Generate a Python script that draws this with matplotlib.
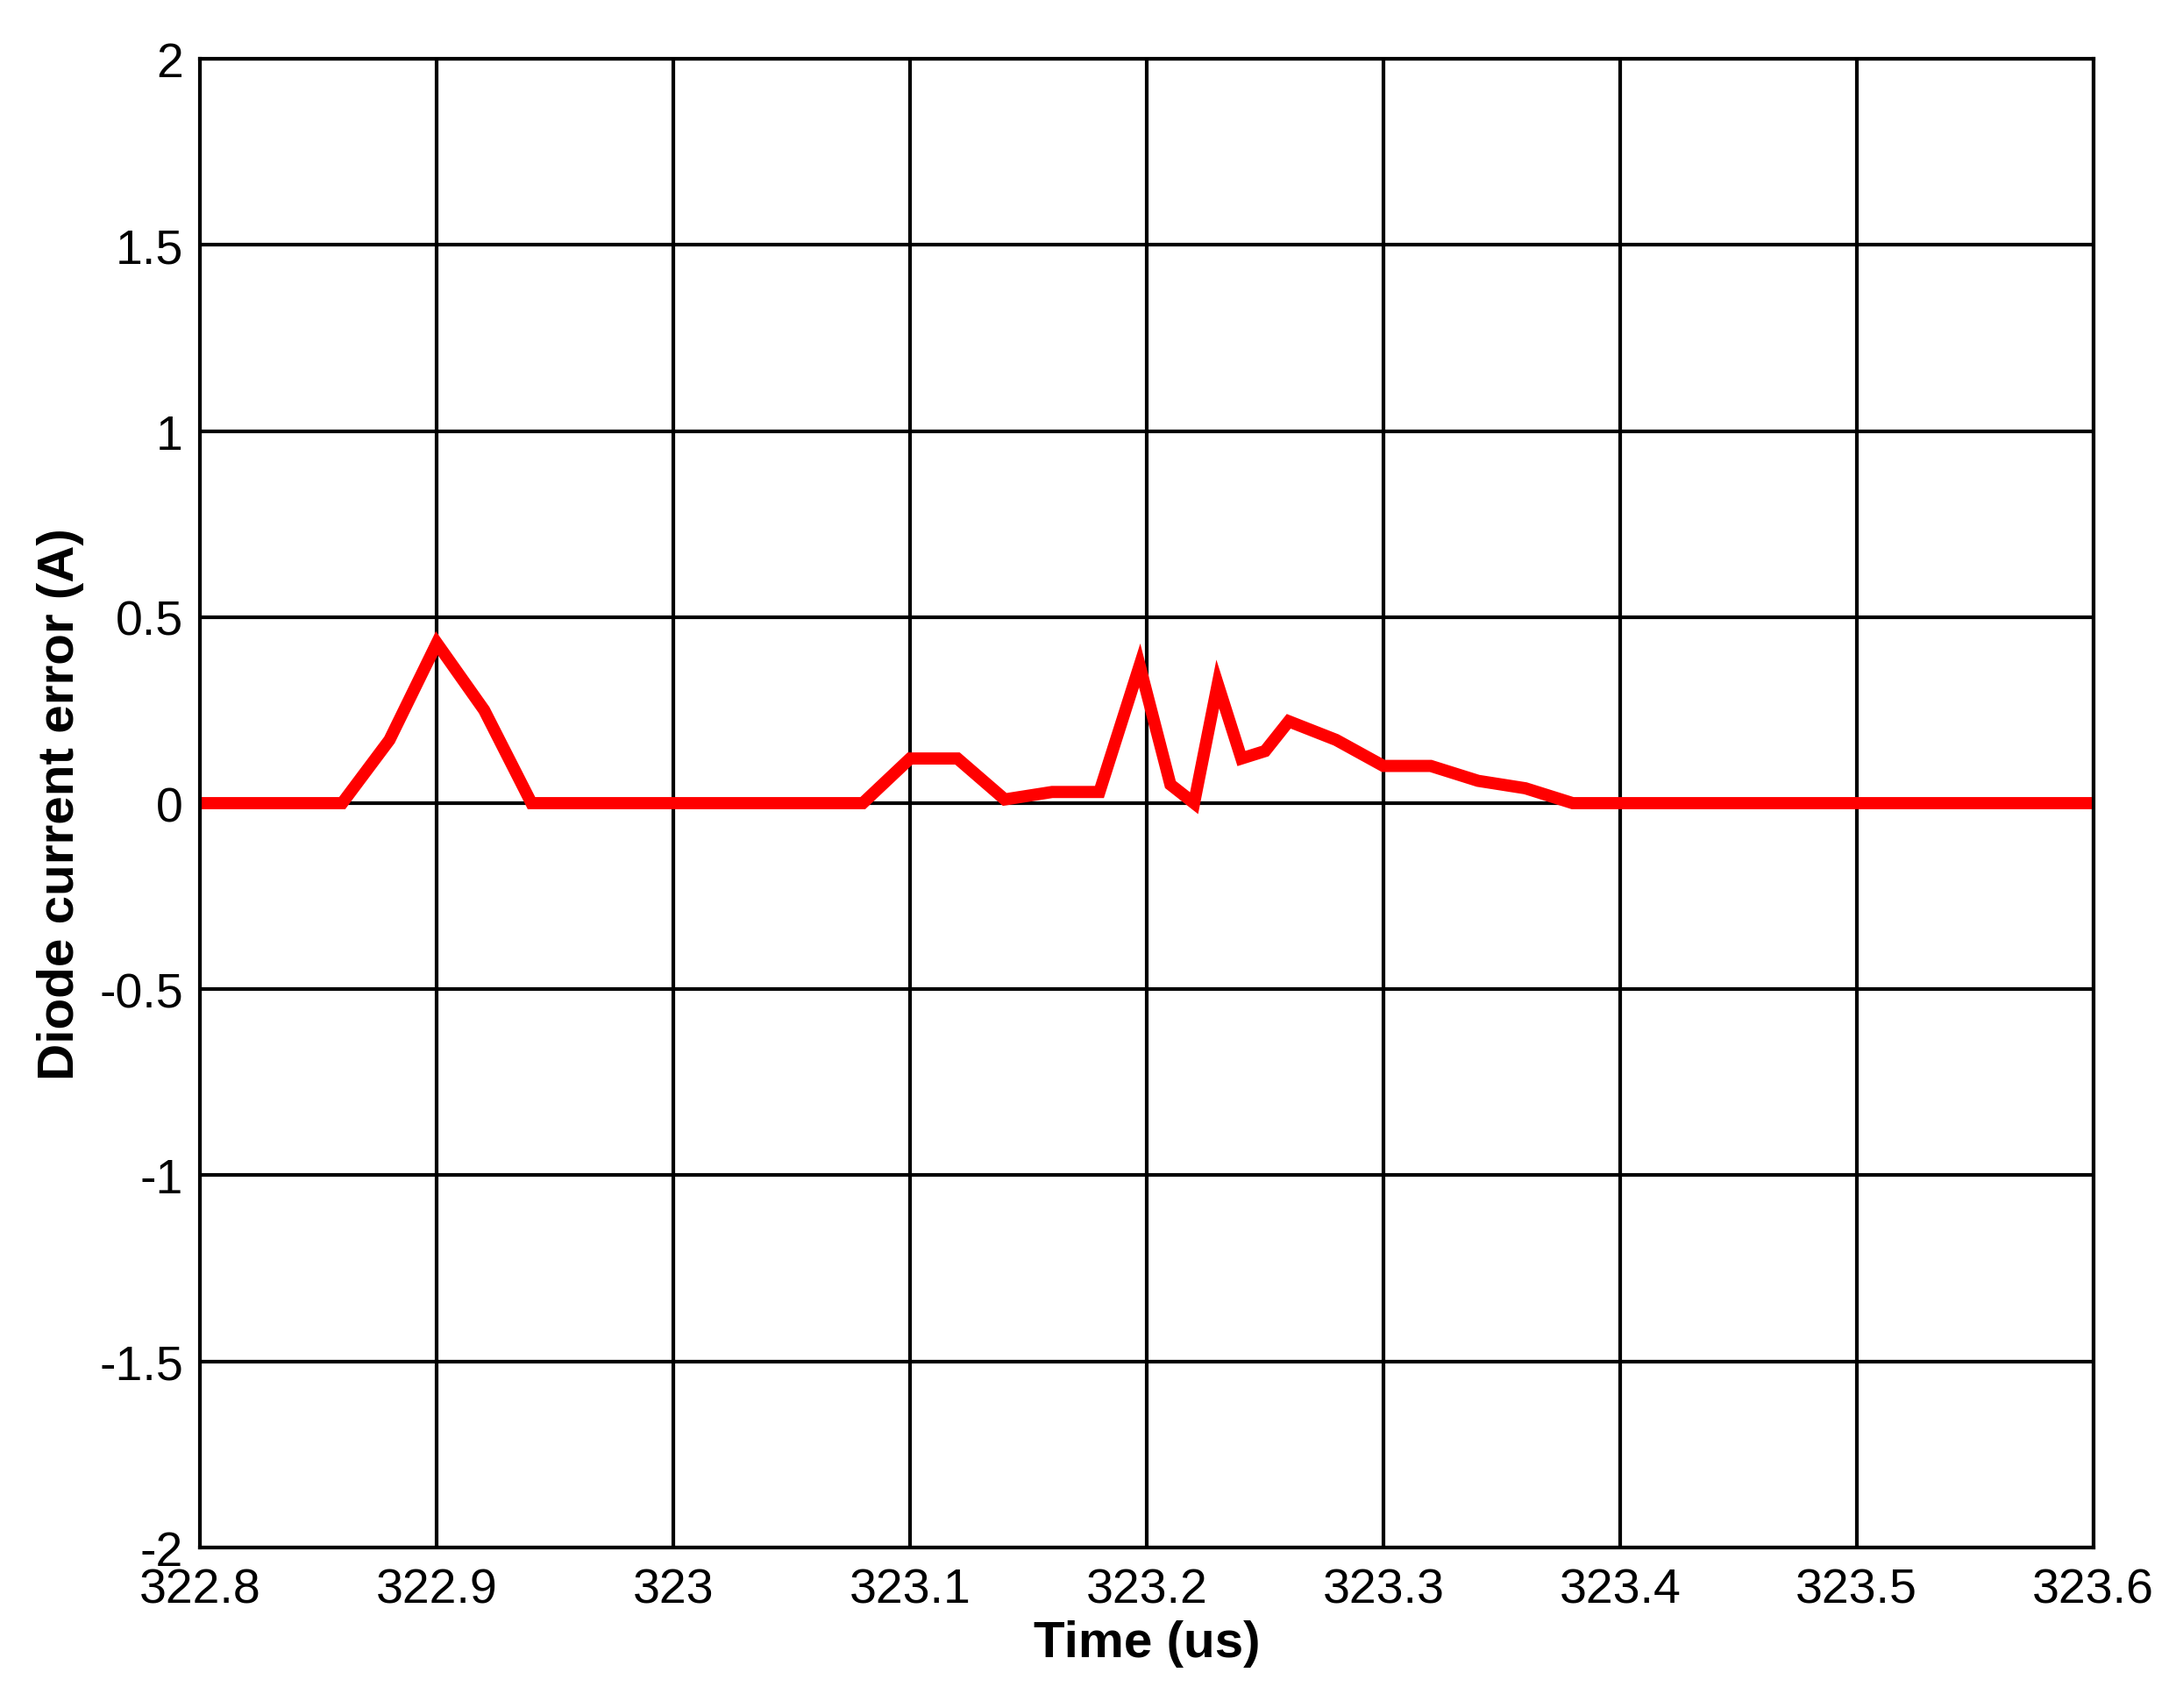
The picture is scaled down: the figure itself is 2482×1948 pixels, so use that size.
import numpy as np
import matplotlib.pyplot as plt

plt.rcParams['font.family'] = ['Liberation Sans', 'DejaVu Sans']

time_us = [322.8, 322.86, 322.88, 322.9, 322.92, 322.94, 323.08, 323.1, 323.12, 323.14,
           323.16, 323.18, 323.197, 323.21, 323.22, 323.23, 323.24, 323.25, 323.26, 323.28,
           323.3, 323.32, 323.34, 323.36, 323.38, 323.6]
err_a = [0, 0, 0.17, 0.43, 0.25, 0, 0, 0.12, 0.12, 0.01,
         0.03, 0.03, 0.37, 0.05, 0.0, 0.32, 0.12, 0.14, 0.22, 0.17,
         0.1, 0.1, 0.06, 0.04, 0, 0]

fig = plt.figure(figsize=(24.82, 19.49), dpi=100)
ax = fig.add_axes([0.092, 0.094, 0.870, 0.871])
ax.plot(time_us, err_a, color='red', lw=10, solid_joinstyle='miter')
ax.set_xlim(322.8, 323.6)
ax.set_ylim(-2, 2)
ax.set_xticks(np.arange(322.8, 323.61, 0.1))
ax.set_xticklabels(['322.8', '322.9', '323', '323.1', '323.2', '323.3', '323.4', '323.5', '323.6'])
ax.set_yticks(np.arange(-2, 2.01, 0.5))
ax.set_yticklabels(['-2', '-1.5', '-1', '-0.5', '0', '0.5', '1', '1.5', '2'])
ax.grid(True, color='black', lw=3)
ax.tick_params(labelsize=40, length=0)
ax.tick_params(axis='x', pad=16)
ax.tick_params(axis='y', pad=14)
for s in ax.spines.values():
    s.set_linewidth(3)
ax.set_xlabel('Time (us)', fontsize=42, fontweight='bold', labelpad=6)
ax.set_ylabel('Diode current error (A)', fontsize=42, fontweight='bold', labelpad=12)
fig.savefig('out.png')
